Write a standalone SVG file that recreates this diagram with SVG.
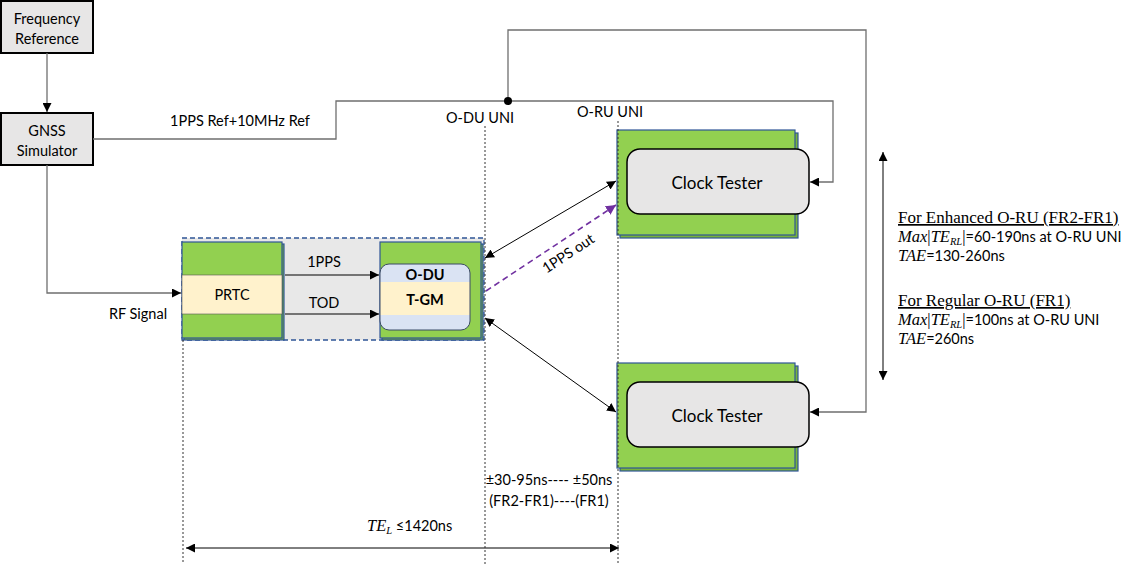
<svg xmlns="http://www.w3.org/2000/svg" width="1134" height="564" viewBox="0 0 1134 564">
<style>
.box{fill:#E7E6E6;stroke:#000;stroke-width:2}
.t{font-family:Lato,"Liberation Sans",sans-serif;font-size:14.5px;fill:#000}
.c{text-anchor:middle;dominant-baseline:central}
.b{font-weight:bold}
.m{font-family:"Liberation Serif",serif;font-style:italic;font-size:16.5px}
.s{font-family:"Liberation Serif",serif;font-size:16.5px}
.sub{font-family:"Liberation Serif",serif;font-style:italic;font-size:10.5px}
.ln{fill:none;stroke:#6f6f6f;stroke-width:1.3}
.ar{fill:none;stroke:#000;stroke-width:1}
.dt{fill:none;stroke:#333;stroke-width:1;stroke-dasharray:2 2}
.gf{fill:#92D050;stroke:#2F5597;stroke-width:1.2}
.gb{fill:#78B23A;stroke:#2F5597;stroke-width:1.2}
.cr{fill:#FFF2CC;stroke:#555;stroke-width:0.6}
.ct{fill:#E7E6E6;stroke:#000;stroke-width:1.5}
</style>
<defs>
<marker id="ah" viewBox="0 0 10 10" refX="10" refY="5" markerWidth="9" markerHeight="9" orient="auto-start-reverse" markerUnits="userSpaceOnUse"><path d="M0,0 L10,5 L0,10 z" fill="#000"/></marker>
<marker id="ahp" viewBox="0 0 10 10" refX="10" refY="5" markerWidth="10" markerHeight="10" orient="auto" markerUnits="userSpaceOnUse"><path d="M0,0 L10,5 L0,10 z" fill="#7030A0"/></marker>
</defs>
<rect x="0" y="0" width="1134" height="564" fill="#fff"/>

<g id="group-region">
<rect x="182" y="238" width="302" height="102" fill="#E8E8E8" stroke="#2F5597" stroke-width="1.3" stroke-dasharray="5 3"/>
</g>

<g id="freq-ref">
<rect class="box" x="1" y="1" width="92" height="52"/>
<text class="t c" x="47" y="18">Frequency</text>
<text class="t c" x="47" y="38">Reference</text>
</g>

<g id="gnss">
<rect class="box" x="1" y="113" width="92" height="52"/>
<text class="t c" x="47" y="130">GNSS</text>
<text class="t c" x="47" y="150">Simulator</text>
</g>

<g id="prtc">
<rect class="gb" x="184" y="244" width="100" height="96"/>
<rect class="gf" x="182" y="242" width="100" height="96"/>
<rect class="cr" x="182" y="275" width="100" height="39"/>
<text class="t c" x="232" y="294">PRTC</text>
</g>

<g id="odu">
<rect class="gb" x="382" y="244" width="101" height="96"/>
<rect class="gf" x="380" y="242" width="101" height="96"/>
<rect x="380" y="264" width="90" height="66" rx="9" fill="#DAE3F3" stroke="none"/>
<rect x="380" y="282" width="90" height="33" fill="#FFF2CC"/>
<rect x="380" y="264" width="90" height="66" rx="9" fill="none" stroke="#3B4B66" stroke-width="1"/>
<text class="t c b" x="425" y="274">O-DU</text>
<text class="t c b" x="425" y="299">T-GM</text>
</g>

<g id="clock-tester-1">
<rect class="gb" x="620" y="133" width="178" height="105"/>
<rect class="gf" x="617" y="130" width="178" height="105"/>
<rect class="ct" x="627" y="149" width="182" height="65" rx="13"/>
<text class="t c" x="717" y="182" style="font-size:17px">Clock Tester</text>
</g>

<g id="clock-tester-2">
<rect class="gb" x="620" y="366" width="178" height="105"/>
<rect class="gf" x="617" y="363" width="178" height="105"/>
<rect class="ct" x="627" y="382" width="182" height="65" rx="13"/>
<text class="t c" x="717" y="415" style="font-size:17px">Clock Tester</text>
</g>

<g id="connectors">
<path class="ln" d="M47,53 V112" marker-end="url(#ah)"/>
<path class="ln" d="M93,139 H336 V101 H833 V182 H810" marker-end="url(#ah)"/>
<path class="ln" d="M508,101 V30 H866 V412 H810" marker-end="url(#ah)"/>
<circle cx="508" cy="101" r="4" fill="#000"/>
<path class="ln" d="M47,165 V293 H181" marker-end="url(#ah)"/>
<path class="ar" d="M285,275 H379" marker-end="url(#ah)"/>
<path class="ar" d="M285,314 H379" marker-end="url(#ah)"/>
<path class="ar" d="M485,258 L616,181" marker-start="url(#ah)" marker-end="url(#ah)"/>
<path d="M486,291 L616,205" fill="none" stroke="#7030A0" stroke-width="1.6" stroke-dasharray="6 4" marker-end="url(#ahp)"/>
<path class="ar" d="M485,318 L616,412" marker-start="url(#ah)" marker-end="url(#ah)"/>
<path class="ar" d="M186,548 H619" marker-start="url(#ah)" marker-end="url(#ah)"/>
<path class="ar" d="M883,152 V380" marker-start="url(#ah)" marker-end="url(#ah)"/>
<path class="dt" d="M183,340 V564"/>
<path class="dt" d="M485,126 V564"/>
<path class="dt" d="M618,121 V564"/>
</g>

<g id="labels">
<text class="t c" x="240" y="120">1PPS Ref+10MHz Ref</text>
<text class="t c" x="480" y="117">O-DU UNI</text>
<text class="t c" x="610" y="111">O-RU UNI</text>
<text class="t c" x="138" y="313">RF Signal</text>
<text class="t c" x="324" y="261">1PPS</text>
<text class="t c" x="324" y="302">TOD</text>
<text class="t c" x="568" y="253" transform="rotate(-33.4 568 253)">1PPS out</text>
<text class="t c" x="549" y="479">±30-95ns---- ±50ns</text>
<text class="t c" x="549" y="500">(FR2-FR1)----(FR1)</text>
<text class="t" x="367" y="531"><tspan class="m">TE</tspan><tspan class="sub" dy="2.5">L</tspan><tspan dy="-2.5"> ≤1420ns</tspan></text>
<text class="s" x="898" y="223" text-decoration="underline" style="font-size:17px">For Enhanced O-RU (FR2-FR1)</text>
<text class="t" x="898" y="242"><tspan class="m">Max</tspan><tspan class="s">|</tspan><tspan class="m">TE</tspan><tspan class="sub" dy="2.5">RL</tspan><tspan class="s" dy="-2.5">|</tspan><tspan>=60-190ns at O-RU UNI</tspan></text>
<text class="t" x="898" y="261"><tspan class="m">TAE</tspan><tspan>=130-260ns</tspan></text>
<text class="s" x="898" y="306" text-decoration="underline" style="font-size:17px">For Regular O-RU (FR1)</text>
<text class="t" x="898" y="325"><tspan class="m">Max</tspan><tspan class="s">|</tspan><tspan class="m">TE</tspan><tspan class="sub" dy="2.5">RL</tspan><tspan class="s" dy="-2.5">|</tspan><tspan>=100ns at O-RU UNI</tspan></text>
<text class="t" x="898" y="344"><tspan class="m">TAE</tspan><tspan>=260ns</tspan></text>
</g>
</svg>
